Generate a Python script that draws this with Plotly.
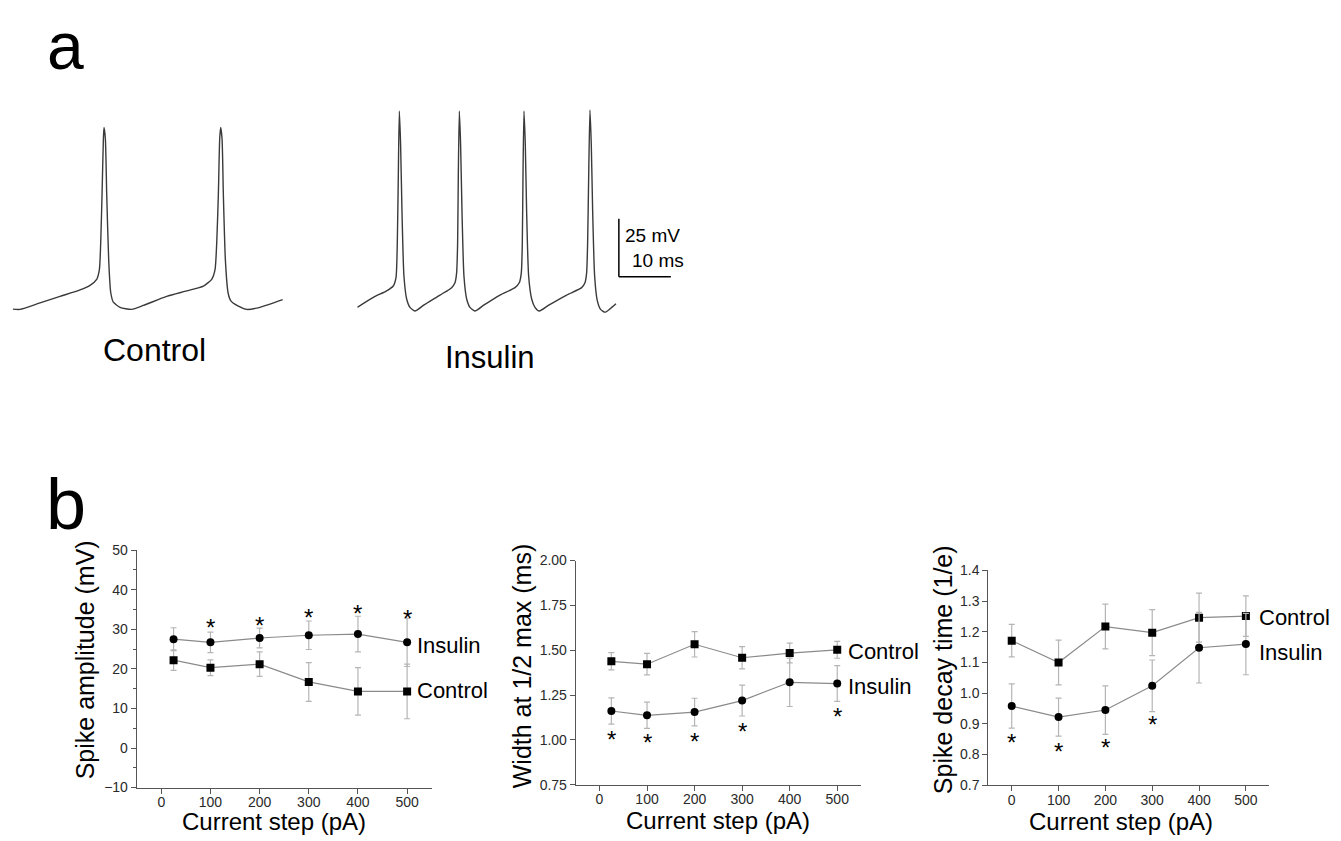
import plotly.graph_objects as go

W, H = 1341, 841
FONT = "Liberation Sans, Arial, Helvetica, sans-serif"

# ---------------- Panel a: example traces (time in ms, potential in mV) ----------------
control_t = [0, 1.41, 5.26, 9.10, 12.95, 14.87, 16.15, 16.67, 16.92, 17.18, 17.44, 17.56, 17.82,
             18.08, 18.46, 18.85, 19.36, 20.64, 22.88, 25.13, 29.62, 33.46, 36.67, 38.27, 38.91,
             39.23, 39.55, 39.81, 40.0, 40.26, 40.51, 40.90, 41.41, 41.92, 43.40, 45.0, 47.56, 51.92]
control_v = [-65.0, -65.1, -62.3, -59.5, -56.7, -54.7, -52.1, -47.9, -36.6, -15.4, 8.6, 13.5, 8.6,
             -15.4, -43.7, -57.8, -62.0, -64.2, -65.1, -63.4, -59.5, -57.1, -55.0, -52.1, -47.9,
             -36.6, -15.4, 8.6, 13.5, 8.6, -15.4, -43.7, -57.8, -61.3, -63.7, -65.1, -64.2, -60.9]

insulin_t = [0, 3.08, 5.64, 6.92, 7.44, 7.69, 7.88, 8.08, 8.33, 8.59, 8.97, 9.49, 10.13, 11.09,
             12.69, 15.90, 18.14, 18.78, 19.10, 19.29, 19.42, 19.62, 19.87, 20.13, 20.51, 21.03,
             21.67, 22.63, 24.23, 27.44, 30.32, 31.15, 31.54, 31.73, 31.86, 32.05, 32.31, 32.56,
             32.95, 33.53, 34.17, 35.0, 36.73, 40.26, 43.14, 43.78, 44.10, 44.29, 44.49, 44.74,
             45.0, 45.26, 45.64, 46.15, 46.79, 47.63, 48.59, 49.74]
insulin_v = [-64.2, -59.9, -57.1, -55.0, -51.4, -36.6, -8.4, 20.6, 5.8, -22.5, -50.7, -60.6, -64.2,
             -65.8, -63.4, -58.9, -55.7, -53.6, -49.3, -36.6, -8.4, 20.6, 5.8, -22.5, -50.7, -60.6,
             -64.2, -65.8, -63.4, -58.9, -55.7, -53.6, -49.3, -36.6, -8.4, 20.6, 5.8, -22.5,
             -50.7, -60.6, -64.2, -65.8, -63.4, -58.9, -55.7, -53.6, -49.3, -36.6, -8.4, 21.0,
             5.8, -22.5, -50.7, -61.3, -65.1, -66.3, -64.9, -62.7]

scalebar_ms = 10
scalebar_mv = 25
scalebar_origin = (50.3, -51.0)  # (ms, mV) corner of the scale bar

# ---------------- Panel b: summary data ----------------
amp_steps = [25, 100, 200, 300, 400, 500]
amp_insulin = [27.5, 26.7, 27.8, 28.5, 28.8, 26.7]
amp_insulin_err = [2.9, 2.6, 2.5, 3.6, 4.5, 6.1]
amp_control = [22.2, 20.3, 21.2, 16.7, 14.3, 14.3]
amp_control_err = [2.6, 2.0, 3.1, 4.9, 6.0, 6.9]
amp_sig_x = [100, 200, 300, 400, 500]
amp_sig_y = [31.9, 32.5, 34.5, 35.4, 34.3]

width_steps = [25, 100, 200, 300, 400, 500]
width_control = [1.438, 1.422, 1.533, 1.458, 1.484, 1.502]
width_control_err = [0.048, 0.060, 0.071, 0.062, 0.055, 0.047]
width_insulin = [1.161, 1.137, 1.155, 1.219, 1.321, 1.314]
width_insulin_err = [0.073, 0.073, 0.077, 0.086, 0.135, 0.100]
width_sig_x = [25, 100, 200, 300, 500]
width_sig_y = [1.036, 1.018, 1.024, 1.078, 1.166]

decay_steps = [0, 100, 200, 300, 400, 500]
decay_control = [1.171, 1.100, 1.217, 1.197, 1.246, 1.251]
decay_control_err = [0.053, 0.073, 0.073, 0.075, 0.080, 0.066]
decay_insulin = [0.958, 0.922, 0.945, 1.024, 1.148, 1.160]
decay_insulin_err = [0.072, 0.062, 0.079, 0.084, 0.115, 0.100]
decay_sig_x = [0, 100, 200, 300]
decay_sig_y = [0.859, 0.830, 0.841, 0.918]

x_ticks = [0, 100, 200, 300, 400, 500]


def px(x):
    return x / W


def py(y):
    return 1 - y / H


fig = go.Figure()

TRACE_COLOR = "#3a3a3a"
for xs, ys, xa, ya in [(control_t, control_v, "x", "y"), (insulin_t, insulin_v, "x2", "y2")]:
    fig.add_trace(go.Scatter(x=xs, y=ys, mode="lines", xaxis=xa, yaxis=ya,
                             line=dict(color=TRACE_COLOR, width=1.4, shape="spline", smoothing=0.6),
                             showlegend=False, hoverinfo="skip"))

LINE_GRAY = "#8a8a8a"
ERR_GRAY = "#b5b5b5"


def add_series(x, y, err, symbol, xa, ya):
    fig.add_trace(go.Scatter(
        x=x, y=y, mode="lines+markers", xaxis=xa, yaxis=ya,
        line=dict(color=LINE_GRAY, width=1.2),
        marker=dict(symbol=symbol, size=8, color="black"),
        error_y=dict(type="data", array=err, color=ERR_GRAY, thickness=1.2, width=3),
        showlegend=False, hoverinfo="skip"))


add_series(amp_steps, amp_control, amp_control_err, "square", "x3", "y3")
add_series(amp_steps, amp_insulin, amp_insulin_err, "circle", "x3", "y3")
add_series(width_steps, width_control, width_control_err, "square", "x4", "y4")
add_series(width_steps, width_insulin, width_insulin_err, "circle", "x4", "y4")
add_series(decay_steps, decay_control, decay_control_err, "square", "x5", "y5")
add_series(decay_steps, decay_insulin, decay_insulin_err, "circle", "x5", "y5")

hidden = dict(visible=False, fixedrange=True)
AX_COLOR = "#555555"
TICK_FONT = dict(family=FONT, size=14, color="#2a2a2a")


def xaxis_b(dom, anchor):
    return dict(domain=dom, anchor=anchor, range=[-50, 550], tickvals=x_ticks,
                showline=True, linecolor=AX_COLOR, linewidth=1, ticks="outside",
                ticklen=5, tickwidth=1, tickcolor=AX_COLOR, showgrid=False, zeroline=False,
                tickfont=TICK_FONT, ticklabelstandoff=-3)


def yaxis_b(dom, anchor, rng, dtick, fmt, minor=None):
    d = dict(domain=dom, anchor=anchor, range=rng, dtick=dtick, tick0=rng[0], tickformat=fmt,
             showline=True, linecolor=AX_COLOR, linewidth=1, ticks="outside",
             ticklen=5, tickwidth=1, tickcolor=AX_COLOR, showgrid=False, zeroline=False,
             tickfont=TICK_FONT)
    if minor:
        d["minor"] = dict(dtick=minor, ticks="outside", ticklen=3, tickcolor=AX_COLOR, showgrid=False)
    return d


fig.update_layout(
    width=W, height=H, margin=dict(l=0, r=0, t=0, b=0),
    paper_bgcolor="white", plot_bgcolor="rgba(0,0,0,0)",
    font=dict(family=FONT, color="black"),
    xaxis=dict(domain=[px(12.7), px(283.1)], range=[0, 52], anchor="y", **hidden),
    yaxis=dict(domain=[py(318.8), py(94.6)], range=[-70, 25], anchor="x", **hidden),
    xaxis2=dict(domain=[px(357.3), px(679.7)], range=[0, 62], anchor="y2", **hidden),
    yaxis2=dict(domain=[py(318.8), py(94.6)], range=[-70, 25], anchor="x2", **hidden),
    xaxis3=xaxis_b([px(136.7), px(431.7)], "y3"),
    yaxis3=yaxis_b([py(794.7), py(552.7)], "x3", [-10, 50], 10, "d", minor=5),
    xaxis4=xaxis_b([px(575.7), px(861.0)], "y4"),
    yaxis4=yaxis_b([py(791.7), py(563.3)], "x4", [0.75, 2.0], 0.25, ".2f"),
    xaxis5=xaxis_b([px(988.3), px(1269.3)], "y5"),
    yaxis5=yaxis_b([py(792.3), py(573.3)], "x5", [0.7, 1.4], 0.1, ".1f"),
)

# scale bar
sx, sy = scalebar_origin
fig.add_shape(type="line", xref="x2", yref="y2", x0=sx, x1=sx, y0=sy, y1=sy + scalebar_mv,
              line=dict(color="black", width=1.5))
fig.add_shape(type="line", xref="x2", yref="y2", x0=sx, x1=sx + scalebar_ms, y0=sy, y1=sy,
              line=dict(color="black", width=1.5))

ann = []


def text(x, y, s, size, xanchor="center", yanchor="middle", angle=0, pad=1):
    ann.append(dict(x=px(x), y=py(y), xref="paper", yref="paper", text=s, showarrow=False,
                    font=dict(family=FONT, size=size, color="black"), xanchor=xanchor,
                    yanchor=yanchor, textangle=angle, borderpad=pad))


text(65, 0, "a", 66, yanchor="top", pad=0)
text(66, 506, "b", 72)
text(154, 349, "Control", 32)
text(490, 356, "Insulin", 31)
text(623, 232, f"{scalebar_mv} mV", 19, xanchor="left")
text(630, 257, f"{scalebar_ms} ms", 19, xanchor="left")

# axis titles
text(274, 829, "Current step (pA)", 24, pad=0)
text(718, 828.5, "Current step (pA)", 24, pad=0)
text(1121, 829, "Current step (pA)", 24, pad=0)
text(85, 665, "Spike amplitude (mV)", 25, angle=-90)
text(522, 671, "Width at 1/2 max (ms)", 25, angle=-90)
text(943, 675, "Spike decay time (1/e)", 25, angle=-90)

# series labels
text(415, 650, "Insulin", 22, xanchor="left")
text(415, 696, "Control", 22, xanchor="left")
text(846, 656, "Control", 22, xanchor="left")
text(846, 692, "Insulin", 22, xanchor="left")
text(1257, 621, "Control", 22, xanchor="left")
text(1257, 657, "Insulin", 22, xanchor="left")

# significance asterisks
for xs, ys, xa, ya in [(amp_sig_x, amp_sig_y, "x3", "y3"),
                       (width_sig_x, width_sig_y, "x4", "y4"),
                       (decay_sig_x, decay_sig_y, "x5", "y5")]:
    for xv, yv in zip(xs, ys):
        ann.append(dict(x=xv, y=yv, xref=xa, yref=ya, text="*", showarrow=False, yshift=-6,
                        font=dict(family=FONT, size=24, color="black")))

fig.update_layout(annotations=ann)

fig.write_html("out.html", config=dict(displayModeBar=False),
               post_script="document.body.style.margin='0';document.body.style.overflow='hidden';")
